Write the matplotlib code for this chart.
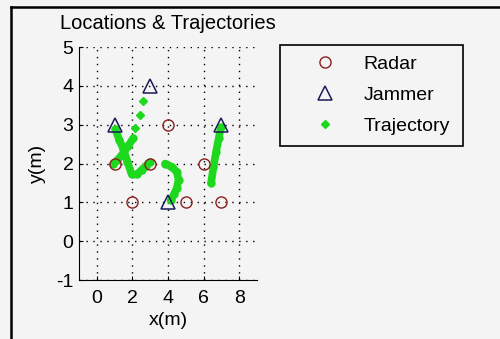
"""
Radar / jammer layout with the jammer trajectories.
"""

import matplotlib.pyplot as plt
from matplotlib.lines import Line2D

plt.rcParams["font.family"] = ["Liberation Sans", "DejaVu Sans"]
plt.rcParams["axes.unicode_minus"] = False

radar_x = [1, 2, 3, 4, 5, 6, 7]
radar_y = [2, 1, 2, 3, 1, 2, 1]

jammer_x = [1, 3, 4, 7]
jammer_y = [3, 4, 1, 3]

# sparse start of the first path, then the dense strokes
sparse_x = [2.62, 2.45, 2.15]
sparse_y = [3.62, 3.25, 2.92]

traj1_x = [2.05, 1.75, 1.45, 1.15, 0.92]
traj1_y = [2.65, 2.45, 2.25, 2.08, 1.98]

traj2_x = [1.05, 1.25, 1.49, 1.72, 1.96, 2.25, 2.52, 2.78, 2.98]
traj2_y = [2.88, 2.62, 2.38, 2.05, 1.72, 1.72, 1.84, 1.95, 2.03]

traj3_x = [3.84, 4.2, 4.5, 4.59, 4.5, 4.35, 4.15]
traj3_y = [2.0, 1.92, 1.78, 1.58, 1.38, 1.22, 1.05]

traj4_x = [6.42, 6.55, 6.7, 6.85, 6.97]
traj4_y = [1.5, 1.9, 2.3, 2.65, 2.93]

x_ticks = [0, 2, 4, 6, 8]
y_ticks = [-1, 0, 1, 2, 3, 4, 5]

green = "#1ed81e"
bg = "#f4f4f4"
fs = 14

fig = plt.figure(figsize=(5.0, 3.39), dpi=100, facecolor=bg)
ax = fig.add_axes([0.158, 0.174, 0.356, 0.687], facecolor=bg)

for tx, ty in [(traj1_x, traj1_y), (traj2_x, traj2_y),
               (traj3_x, traj3_y), (traj4_x, traj4_y)]:
    ax.plot(tx, ty, "-", color=green, lw=5.5, solid_capstyle="round",
            solid_joinstyle="round", zorder=3)
    ax.plot(tx, ty, "o", color=green, ms=5, zorder=3)

h_radar, = ax.plot(radar_x, radar_y, "o", ms=8, mfc="none", mec="#8a1e1e",
                   mew=1.0, label="Radar", zorder=4)
h_jam, = ax.plot(jammer_x, jammer_y, "^", ms=9.5, mfc="none", mec="#1a1a5a",
                 mew=1.1, label="Jammer", zorder=4)
h_traj, = ax.plot(sparse_x, sparse_y, "D", color=green, ms=4.5,
                  label="Trajectory", zorder=3)

ax.set_xlim(-1, 9)
ax.set_ylim(-1, 5)
ax.set_xticks(x_ticks)
ax.set_yticks(y_ticks)
ax.tick_params(direction="in", length=3, labelsize=fs, pad=4)
ax.tick_params(axis="x", pad=7)
ax.grid(True, color="black", linestyle=(0, (1, 4)), linewidth=1.0)
ax.spines["top"].set_visible(False)
ax.spines["right"].set_visible(False)
ax.set_title("Locations & Trajectories", fontsize=fs + 0.5, pad=13)
ax.set_xlabel("x(m)", fontsize=fs, labelpad=4)
ax.set_ylabel("y(m)", fontsize=fs, labelpad=7)

leg = fig.legend(handles=[h_radar, h_jam, h_traj],
                 loc="upper left",
                 bbox_to_anchor=(0.56, 1 - 45 / 339, 0.366, 0.0),
                 bbox_transform=fig.transFigure, mode="expand",
                 borderaxespad=0, fontsize=fs, fancybox=False,
                 edgecolor="black", facecolor=bg, framealpha=1,
                 handlelength=3.5, handletextpad=0.25, labelspacing=0.68,
                 borderpad=0.55)
leg.get_frame().set_linewidth(1.2)

# figure border on the left and top
fig.add_artist(Line2D([11 / 500, 11 / 500], [0, 1 - 7 / 339], color="black",
                      lw=1.8, transform=fig.transFigure))
fig.add_artist(Line2D([11 / 500, 1], [1 - 7 / 339, 1 - 7 / 339],
                      color="black", lw=1.8, transform=fig.transFigure))

fig.savefig("out.png", dpi=100, facecolor=bg)
